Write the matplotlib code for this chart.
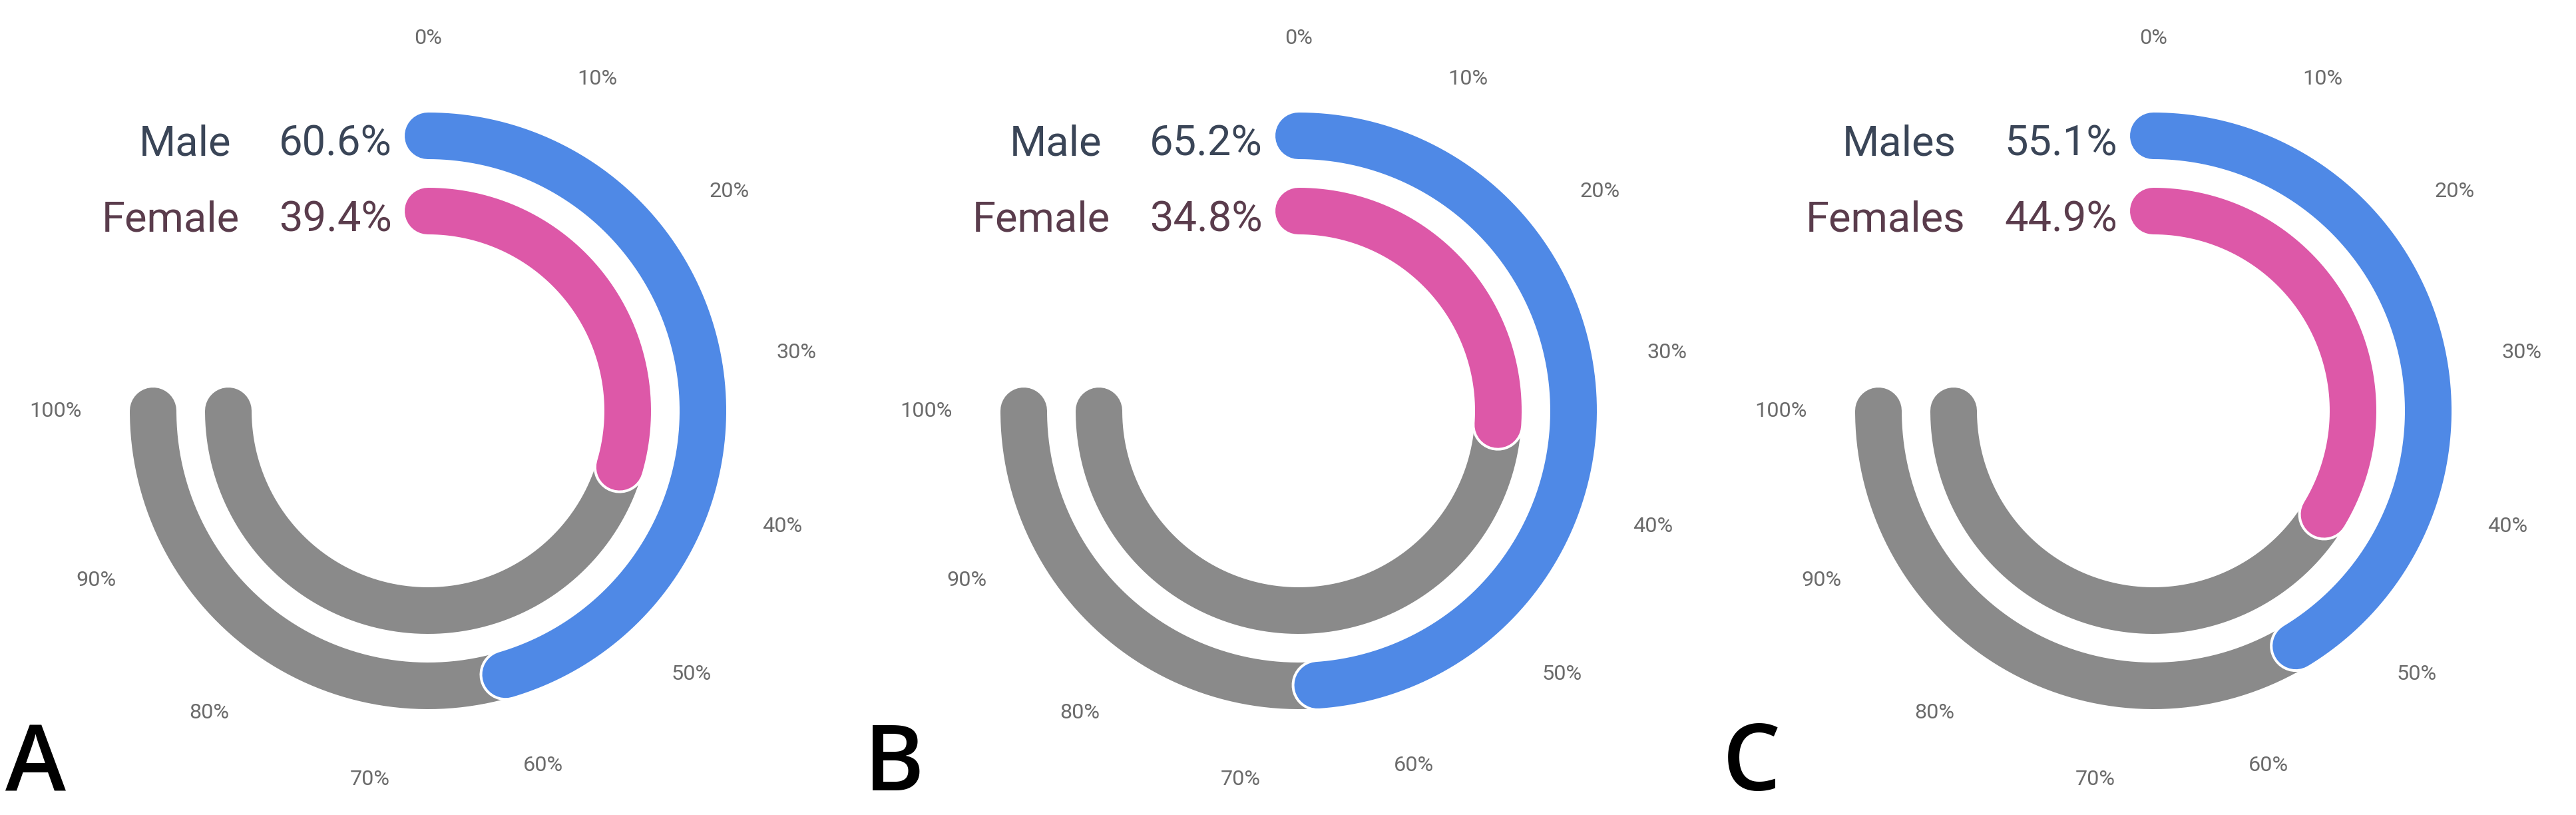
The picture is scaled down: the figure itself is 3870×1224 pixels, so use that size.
import numpy as np
import matplotlib
matplotlib.use("Agg")
import matplotlib.pyplot as plt

plt.rcParams['font.family'] = ['Roboto', 'DejaVu Sans']

# data
panel_letters = ["A", "B", "C"]
male_labels = ["Male", "Male", "Males"]
female_labels = ["Female", "Female", "Females"]
male_pct = [60.6, 65.2, 55.1]
female_pct = [39.4, 34.8, 44.9]
tick_values = [0, 10, 20, 30, 40, 50, 60, 70, 80, 90, 100]
tick_labels = ["%d%%" % t for t in tick_values]

# colours
c_male = "#4f89e6"
c_female = "#dd58a8"
c_track = "#8a8a8a"
c_male_txt = "#3a4557"
c_female_txt = "#5a3c4c"
c_tick = "#6b6b6b"

W, H = 3870, 1224
fig = plt.figure(figsize=(W / 100, H / 100), dpi=100)

centers_x = [643, 1951, 3235]
cy = 617
R_ax = 530
r_outer, r_inner = 413, 300
lw = 70 * 0.72
lw_edge = 78 * 0.72
sweep = 1.5 * np.pi  # 100% = three quarters of a turn


def arc(ax, pct, r, color, width, z):
    th = np.linspace(0, pct / 100.0 * sweep, 500)
    ax.plot(th, np.full_like(th, r), color=color, lw=width,
            solid_capstyle="round", zorder=z)


for i in range(3):
    cx = centers_x[i]
    ax = fig.add_axes([(cx - R_ax) / W, (H - cy - R_ax) / H, 2 * R_ax / W, 2 * R_ax / H],
                      projection="polar")
    ax.set_theta_zero_location("N")
    ax.set_theta_direction(-1)
    ax.set_ylim(0, R_ax)
    ax.grid(False)
    ax.spines["polar"].set_visible(False)
    ax.set_yticks([])
    ax.set_facecolor("none")
    ax.set_xticks(np.array(tick_values) / 100.0 * sweep)
    ax.set_xticklabels(tick_labels)
    ax.tick_params(axis="x", length=0, pad=14.6, labelsize=23.3, labelcolor=c_tick)

    for pct, r, col in [(male_pct[i], r_outer, c_male), (female_pct[i], r_inner, c_female)]:
        arc(ax, 100, r, c_track, lw, 1)
        arc(ax, pct, r, "white", lw_edge, 2)
        arc(ax, pct, r, col, lw, 3)

    # legend texts
    fig.text((cx - 296) / W, 1 - 233 / H, male_labels[i], ha="right", va="baseline",
             fontsize=45.5, color=c_male_txt)
    fig.text((cx - 54) / W, 1 - 233 / H, "%.1f%%" % male_pct[i], ha="right", va="baseline",
             fontsize=45.5, color=c_male_txt)
    fig.text((cx - 283) / W, 1 - 347 / H, female_labels[i], ha="right", va="baseline",
             fontsize=45.5, color=c_female_txt)
    fig.text((cx - 54) / W, 1 - 347 / H, "%.1f%%" % female_pct[i], ha="right", va="baseline",
             fontsize=45.5, color=c_female_txt)

    # panel letter
    fig.text((i * 1290 + 8) / W, 1 - 1187 / H, panel_letters[i], ha="left", va="baseline",
             fontsize=99, color="black", family=["Open Sans", "DejaVu Sans"], weight="semibold")

fig.savefig("out.png", dpi=100, facecolor="white")
